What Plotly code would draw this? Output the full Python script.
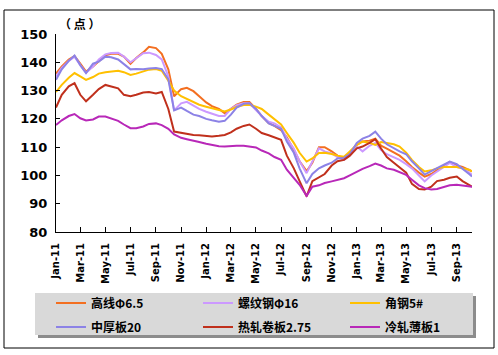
import plotly.graph_objects as go
import pandas as pd

# semi-monthly observation dates (1st and 15th), last reading early Oct 2013
dates = list(pd.date_range('2011-01-01', '2013-10-01', freq='SMS').strftime('%Y-%m-%d')) + ['2013-10-08']

names = ['高线Φ6.5', '螺纹钢Φ16', '角钢5#', '中厚板20', '热轧卷板2.75', '冷轧薄板1']

gaoxian = [136.0,138.5,141.0,142.2,139.5,136.7,138.5,140.5,142.5,143.0,143.0,142.0,
           139.5,141.5,143.5,145.5,145.0,143.0,137.5,128.0,130.5,131.0,129.8,128.0,
           125.8,124.5,123.5,122.0,123.5,125.0,126.0,126.0,123.5,121.0,118.5,117.5,
           116.0,113.5,109.0,105.0,101.5,104.5,110.0,110.0,108.5,107.0,106.0,108.0,
           110.8,112.0,112.3,113.0,110.5,109.5,108.0,107.0,105.0,103.0,101.0,99.6,
           100.5,102.0,103.5,104.8,103.5,103.0,102.0,101.4]
luowengang = [135.0,138.0,140.5,142.0,139.0,136.3,138.5,141.0,142.8,143.3,143.4,142.0,
              140.0,141.5,143.2,143.4,142.6,141.0,135.0,123.0,125.5,126.0,124.5,123.5,
              122.5,121.8,121.0,121.0,123.5,124.8,125.5,125.5,123.2,121.0,119.0,118.4,
              117.0,113.0,109.5,105.0,100.8,105.0,109.6,108.5,107.8,106.5,105.5,107.0,
              110.2,108.5,110.5,111.5,109.0,107.5,106.5,105.5,104.0,102.5,100.0,97.9,
              100.0,101.4,103.0,104.4,103.0,102.5,101.0,100.2]
jiaogang = [129.5,132.0,134.5,136.2,135.0,133.8,134.8,136.0,136.5,136.8,137.0,136.5,
            135.5,136.0,136.7,137.4,137.6,137.0,133.5,130.0,128.0,127.0,126.0,125.0,
            124.3,123.8,123.2,122.6,123.3,124.2,124.9,125.0,124.3,123.5,121.5,120.0,
            118.0,115.0,111.5,108.0,104.9,106.0,107.9,108.0,107.6,107.0,106.6,108.5,
            110.8,112.0,111.5,110.8,111.8,111.5,111.0,110.2,108.0,105.5,103.0,101.4,
            101.8,102.5,103.0,103.0,103.0,102.5,102.0,101.4]
zhonghouban = [133.8,137.5,140.5,142.4,139.0,136.2,139.5,140.2,142.0,141.8,141.0,139.5,
               137.5,137.6,137.5,137.8,138.0,137.6,134.0,123.0,124.0,122.8,121.5,121.0,
               120.0,119.5,119.0,119.3,121.5,124.0,125.3,125.5,123.5,121.0,118.4,117.5,
               116.5,112.0,108.0,102.5,97.2,100.5,102.5,103.5,104.5,106.0,106.2,107.5,
               111.5,113.0,114.0,115.5,113.0,111.0,109.5,108.5,107.5,105.0,102.5,100.3,
               101.5,102.5,104.0,104.9,104.0,102.5,100.5,99.6]
rezha = [124.0,128.5,131.5,132.6,128.5,126.2,128.5,130.5,132.0,131.4,130.8,128.5,
         128.0,128.5,129.3,129.5,129.0,129.5,123.5,115.5,115.0,114.8,114.3,114.2,
         114.0,113.8,114.0,114.3,115.2,116.5,117.5,118.0,116.5,115.0,114.2,113.5,
         112.6,107.0,102.5,98.0,92.6,98.0,99.5,100.5,103.5,105.0,105.5,107.0,
         109.6,110.2,111.5,112.8,109.5,106.5,104.5,103.0,101.0,97.0,95.2,95.0,
         96.0,98.0,98.5,99.2,99.6,98.0,96.8,96.0]
lengzha = [117.8,119.5,121.0,121.7,120.2,119.4,119.8,120.8,120.8,120.2,119.3,118.0,
           116.7,116.7,117.3,118.2,118.4,117.8,116.5,114.5,113.3,112.8,112.4,111.8,
           111.2,110.8,110.3,110.2,110.4,110.5,110.5,110.2,109.9,108.8,107.8,106.5,
           105.5,102.0,99.3,96.7,92.8,96.0,96.5,97.3,97.9,98.4,99.0,100.0,
           101.3,102.3,103.3,104.2,103.5,102.5,102.0,101.2,100.2,98.5,96.5,95.5,
           95.0,95.2,96.0,96.5,96.7,96.5,96.2,96.0]

series = [gaoxian, luowengang, jiaogang, zhonghouban, rezha, lengzha]
colors = ['#F36F21', '#CC99FF', '#FFC000', '#8C82E6', '#C0301C', '#B828B8']
legends = ['legend', 'legend', 'legend', 'legend2', 'legend2', 'legend2']

W, H = 498, 355
L, R, T, B = 56, 26, 34, 123
PW, PH = W - L - R, H - T - B

def px(x):
    return (x - L) / PW

def py(y):
    return (H - B - y) / PH

fig = go.Figure()
for name, vals, col, lg in zip(names, series, colors, legends):
    fig.add_trace(go.Scatter(x=dates, y=vals, mode='lines', name=name,
                             line=dict(color=col, width=2), legend=lg))

cjk = 'Noto Sans CJK SC'
axis_font = 'DejaVu Sans'

fig.update_layout(
    width=W, height=H,
    margin=dict(l=L, r=R, t=T, b=B),
    paper_bgcolor='white', plot_bgcolor='white',
    showlegend=True,
    xaxis=dict(type='date', range=['2011-01-01', '2013-10-08'],
               tick0='2011-01-01', dtick='M2', tickformat='%b-%y', tickangle=-90,
               ticks='inside', ticklen=5, tickcolor='black',
               showline=True, linecolor='black', linewidth=1,
               showgrid=False, zeroline=False, ticklabelstandoff=6,
               tickfont=dict(family=axis_font, size=10, color='black', weight='bold')),
    yaxis=dict(range=[80, 150], dtick=10, tick0=80,
               ticks='inside', ticklen=4, tickcolor='black',
               showline=True, linecolor='black', linewidth=1,
               showgrid=False, zeroline=False, ticklabelstandoff=5,
               tickfont=dict(family=axis_font, size=13, color='black', weight='bold')),
    legend=dict(orientation='h', x=px(51), xanchor='left', y=py(303), yanchor='middle',
                bgcolor='rgba(0,0,0,0)', entrywidth=102, entrywidthmode='pixels',
                font=dict(family=cjk, size=12, color='black', weight='bold')),
    legend2=dict(orientation='h', x=px(51), xanchor='left', y=py(327), yanchor='middle',
                 bgcolor='rgba(0,0,0,0)', entrywidth=102, entrywidthmode='pixels',
                 font=dict(family=cjk, size=12, color='black', weight='bold')),
    annotations=[dict(text='（ 点 ）', xref='paper', yref='paper', x=px(57), y=py(24),
                      xanchor='left', yanchor='middle', showarrow=False,
                      font=dict(family=cjk, size=12, color='black', weight='bold'))],
    shapes=[
        # outer chart border
        dict(type='rect', xref='paper', yref='paper', x0=px(4), x1=px(494), y0=py(10), y1=py(348),
             line=dict(color='black', width=1), fillcolor='rgba(0,0,0,0)', layer='below'),
        # legend shadow
        dict(type='rect', xref='paper', yref='paper', x0=px(38), x1=px(476), y0=py(296), y1=py(338),
             line=dict(width=0), fillcolor='#8C8C8C', layer='below'),
        # legend box
        dict(type='rect', xref='paper', yref='paper', x0=px(35), x1=px(473), y0=py(293), y1=py(335),
             line=dict(width=0), fillcolor='#D9D9D9', layer='below'),
    ],
)

fig.write_html('out.html', config={'displayModeBar': False},
               post_script="document.body.style.margin='0px';")
